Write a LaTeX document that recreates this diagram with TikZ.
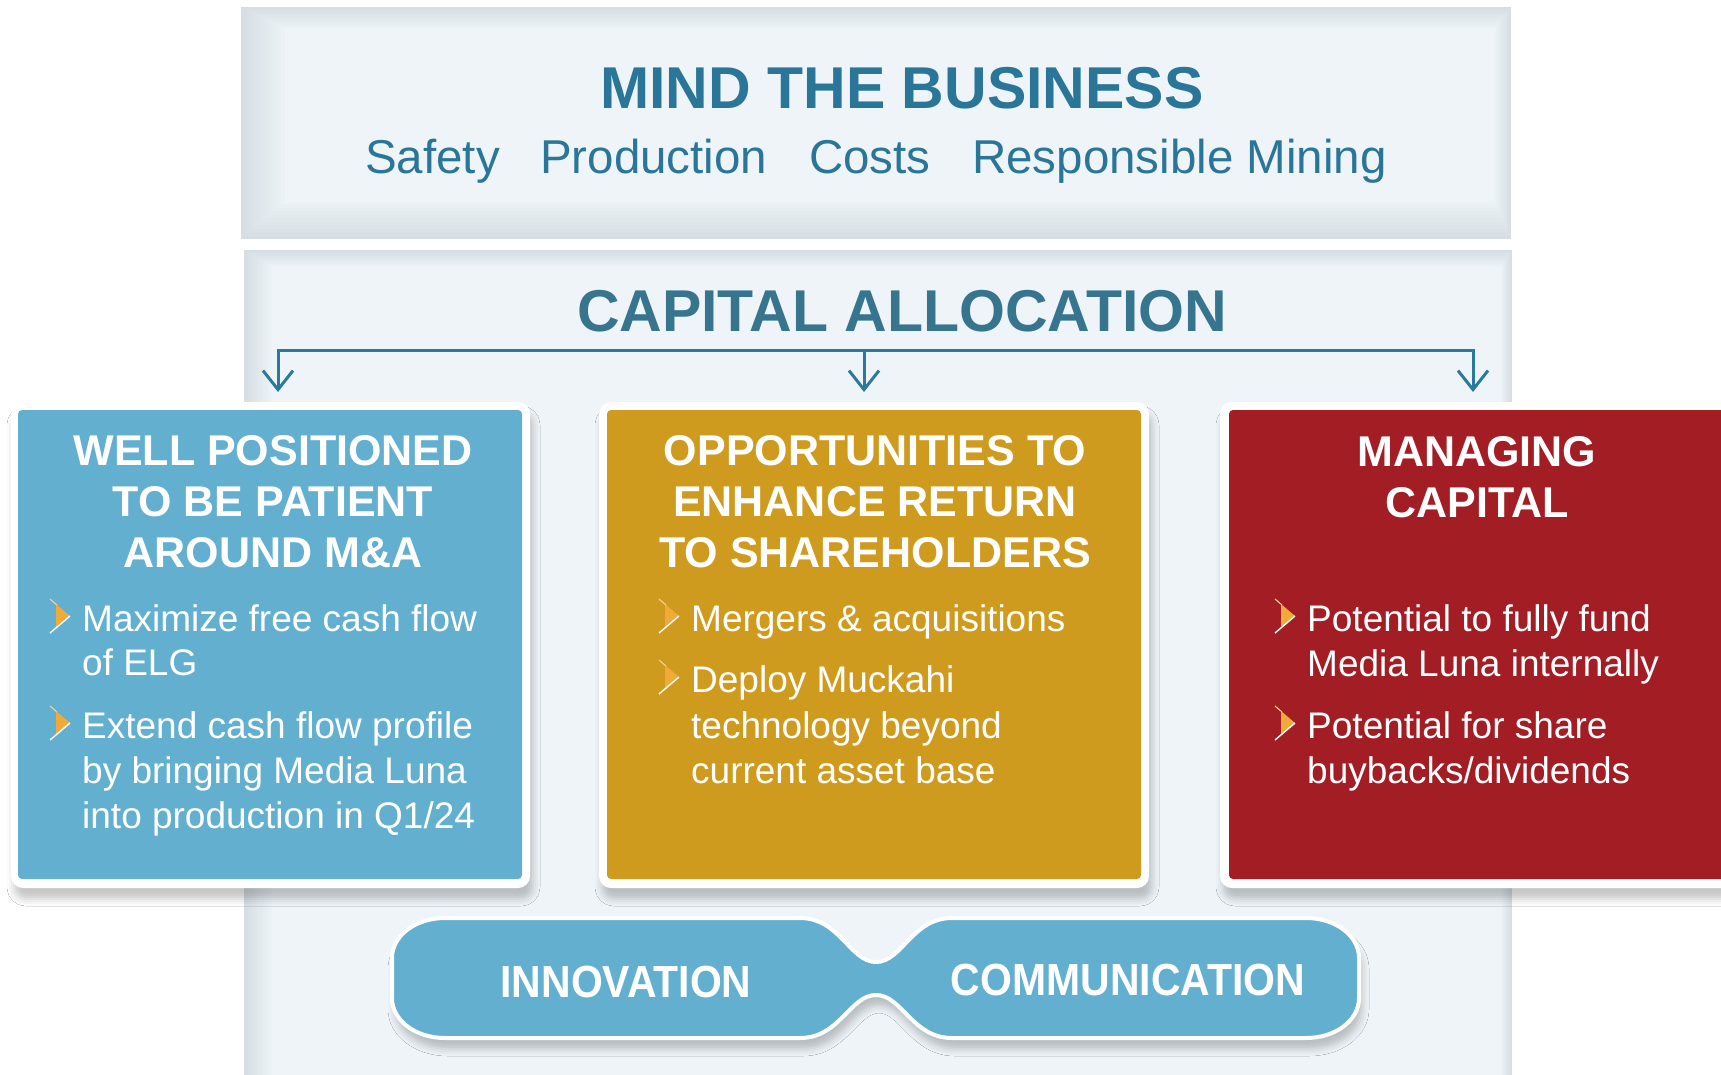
\documentclass[tikz,border=0pt]{standalone}
\usepackage{fontspec}
\setmainfont{Liberation Sans}
\newfontfamily\narrowfont[FakeStretch=0.91]{Liberation Sans}
\usetikzlibrary{arrows.meta,shadows.blur}
\definecolor{catitle}{HTML}{2A7698}
\definecolor{catitleb}{HTML}{37758F}
\definecolor{caline}{HTML}{2C7A9B}
\definecolor{boxblue}{HTML}{63AFD0}
\definecolor{boxgold}{HTML}{CF9B1E}
\definecolor{boxred}{HTML}{A31D25}
\definecolor{chevorange}{HTML}{F0AA3A}
\definecolor{paneledge}{HTML}{D6DEE3}
\definecolor{panelin}{HTML}{EEF4F8}
\begin{document}
\begin{tikzpicture}[x=1pt,y=-1pt,
  softshadow/.style={blur shadow={shadow xshift=3pt, shadow yshift=-11pt, shadow blur radius=7pt, shadow opacity=22}},
  framebox/.style={fill=white, rounded corners=12pt, inner sep=0pt, draw=none, softshadow},
  cardbox/.style={rounded corners=4pt, inner sep=0pt, draw=none},
  ttl/.style={font=\bfseries\fontsize{43}{50}\selectfont, text=white, inner sep=0pt, anchor=base},
  bul/.style={font=\fontsize{37}{45}\selectfont, text=white, inner sep=0pt, anchor=base west},
  sub/.style={font=\fontsize{47.5}{56}\selectfont, text=catitle, inner sep=0pt, anchor=base west},
  pill/.style={font=\narrowfont\bfseries\fontsize{45}{54}\selectfont, text=white, inner sep=0pt, anchor=base},
  arr/.style={draw=caline, line width=3pt, -{Straight Barb[length=19pt,width=30pt]}},
  chevron/.pic={
    \fill[chevorange] (-14,-12) -- (0,0) -- (-14,11) -- cycle;
    \draw[white, line width=1.4pt] (-20,17) -- (0,0);
    \draw[chevorange!55!white, line width=1.1pt] (-20,-17) -- (-13,-11);
  }]
\useasboundingbox (0,0) rectangle (1721,1074);
\fill[white] (0,0) rectangle (1721,1074);
% top panel
\foreach \i in {0,...,11}{
  \pgfmathtruncatemacro\p{\i*100/11}
  \fill[panelin!\p!paneledge] (241+4*\i, 7+2*\i) rectangle (1511-1.5*\i, 239-3.5*\i);
}
% second panel
\foreach \i in {0,...,11}{
  \pgfmathtruncatemacro\p{\i*100/11}
  \fill[panelin!\p!paneledge] (244+2.5*\i, 250+1.5*\i) rectangle (1512-1*\i, 1080);
}
% titles
\node[font=\bfseries\fontsize{59}{70}\selectfont, text=catitle, inner sep=0pt, anchor=base] (mind) at (902,108) {MIND THE BUSINESS};
\node[sub] (safety) at (365,173) {Safety};
\node[sub] (production) at (540,173) {Production};
\node[sub] (costs) at (809,173) {Costs};
\node[sub] (respmin) at (972,173) {Responsible Mining};
\node[font=\bfseries\fontsize{59}{70}\selectfont, text=catitleb, inner sep=0pt, anchor=base] (capalloc) at (902,331) {CAPITAL ALLOCATION};
% connector bar
\coordinate (barL) at (278,350);
\coordinate (barM) at (864,350);
\coordinate (barR) at (1473,350);
\coordinate (tipL) at (278,392);
\coordinate (tipM) at (864,392);
\coordinate (tipR) at (1473,392);
\draw[caline, line width=3pt, line cap=rect] (barL) -- (barR);
\draw[arr] (barL) -- (tipL);
\draw[arr] (barM) -- (tipM);
\draw[arr] (barR) -- (tipR);
% boxes
\node[framebox, minimum width=519pt, minimum height=486pt] (f1) at (270.5,645) {};
\node[cardbox, fill=boxblue, minimum width=504pt, minimum height=469pt] (b1) at (270,644.5) {};
\node[framebox, minimum width=550pt, minimum height=486pt] (f2) at (874,645) {};
\node[cardbox, fill=boxgold, minimum width=534pt, minimum height=469pt] (b2) at (874,644.5) {};
\node[framebox, minimum width=560pt, minimum height=486pt] (f3) at (1500,645) {};
\node[cardbox, fill=boxred, minimum width=551pt, minimum height=469pt] (b3) at (1504.5,644.5) {};
% box 1 text
\node[ttl] (t1a) at (273,465) {WELL POSITIONED};
\node[ttl] (t1b) at (273,516) {TO BE PATIENT};
\node[ttl] (t1c) at (273,567) {AROUND M\&A};
\pic at (70,616) {chevron};
\node[bul] (b1l1) at (82,631) {Maximize free cash flow};
\node[bul] (b1l2) at (82,675) {of ELG};
\pic at (70,723) {chevron};
\node[bul] (b1l3) at (82,738) {Extend cash flow profile};
\node[bul] (b1l4) at (82,783) {by bringing Media Luna};
\node[bul] (b1l5) at (82,828) {into production in Q1/24};
% box 2 text
\node[ttl] (t2a) at (875,465) {OPPORTUNITIES TO};
\node[ttl] (t2b) at (875,516) {ENHANCE RETURN};
\node[ttl] (t2c) at (875,567) {TO SHAREHOLDERS};
\pic at (679,616) {chevron};
\node[bul] (b2l1) at (691,631) {Mergers \& acquisitions};
\pic at (679,677) {chevron};
\node[bul] (b2l2) at (691,692) {Deploy Muckahi};
\node[bul] (b2l3) at (691,738) {technology beyond};
\node[bul] (b2l4) at (691,783) {current asset base};
% box 3 text
\node[ttl] (t3a) at (1477,466) {MANAGING};
\node[ttl] (t3b) at (1477,517) {CAPITAL};
\pic at (1295,616) {chevron};
\node[bul] (b3l1) at (1307,631) {Potential to fully fund};
\node[bul] (b3l2) at (1307,676) {Media Luna internally};
\pic at (1295,723) {chevron};
\node[bul] (b3l3) at (1307,738) {Potential for share};
\node[bul] (b3l4) at (1307,783) {buybacks/dividends};
% bottom joined pills
\path[fill=boxblue, draw=white, line width=4pt, softshadow]
 (445,918) -- (800,918) .. controls (840,918) and (850,962) .. (876,962)
 .. controls (902,962) and (912,918) .. (952,918) -- (1306,918)
 .. controls (1336,918) and (1359,936) .. (1359,958) -- (1359,998)
 .. controls (1359,1020) and (1336,1038) .. (1306,1038) -- (952,1038)
 .. controls (912,1038) and (902,995) .. (876,995)
 .. controls (850,995) and (840,1038) .. (800,1038) -- (445,1038)
 .. controls (415,1038) and (392,1020) .. (392,998) -- (392,958)
 .. controls (392,936) and (415,918) .. (445,918) -- cycle;
\node[pill] (innov) at (626,997) {INNOVATION};
\node[pill] (comm) at (1128,995) {COMMUNICATION};
\end{tikzpicture}
\end{document}
